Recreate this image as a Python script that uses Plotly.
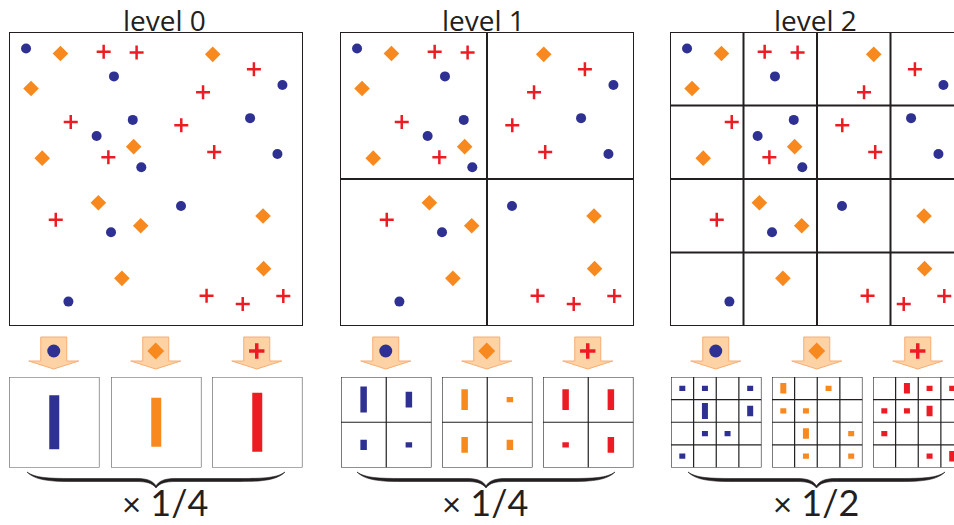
import numpy as np
import plotly.graph_objects as go

# ---------------- data (normalized positions inside the unit image square; u from left, v from top)
blue_u = [0.058, 0.357, 0.930, 0.421, 0.820, 0.298, 0.913, 0.450, 0.585, 0.347, 0.202]
blue_v = [0.056, 0.151, 0.180, 0.299, 0.293, 0.354, 0.415, 0.460, 0.592, 0.681, 0.917]
orange_u = [0.175, 0.693, 0.075, 0.424, 0.113, 0.304, 0.448, 0.864, 0.384, 0.866]
orange_v = [0.073, 0.076, 0.192, 0.390, 0.429, 0.581, 0.659, 0.626, 0.838, 0.805]
red_u = [0.322, 0.434, 0.833, 0.660, 0.210, 0.586, 0.338, 0.698, 0.159, 0.672, 0.795, 0.933]
red_v = [0.067, 0.070, 0.127, 0.205, 0.306, 0.317, 0.426, 0.408, 0.639, 0.897, 0.925, 0.898]

levels = [0, 1, 2]
level_titles = ["level 0", "level 1", "level 2"]
weight_labels = ["1/4", "1/4", "1/2"]

# ---------------- layout / style constants (pixels)
W, H = 954, 525
INK = "#231f20"
BLUE, ORANGE, RED = "#2e3192", "#f7891f", "#ed1c24"
ARROW_FILL, ARROW_LINE = "#fdd3a6", "#f8ad72"
FONT = "Open Sans"
FONT_W = "Lato"

panel_left = [9, 340, 670]
panel_top, panel_size = 32, 294
hist_left = [[9, 111, 212], [341, 442, 543], [671, 772, 873]]
hist_top, hist_size = 377, 90.5
px_per_count = [4.9, 5.2, 5.3]
bar_px = [10, 6.5, 6]
title_x = [164, 483, 815]
brace_span = [(27, 285), (357, 615), (688, 945)]
weight_x = [165, 485, 816]

series = [
    dict(u=blue_u, v=blue_v, color=BLUE, symbol="circle", size=10, icon=13),
    dict(u=orange_u, v=orange_v, color=ORANGE, symbol="diamond", size=12, icon=13),
    dict(u=red_u, v=red_v, color=RED, symbol="cross-thin", size=10, icon=11),
]

fig = go.Figure()
layout = dict(width=W, height=H, margin=dict(l=0, r=0, t=0, b=0),
              paper_bgcolor="white", plot_bgcolor="rgba(0,0,0,0)",
              showlegend=False)
shapes, annotations = [], []
ax_count = [0]


def new_axes(left, top, width, height, xr_units, yr_units):
    ax_count[0] += 1
    k = ax_count[0]
    right = min(left + width, W)
    xr = [0, xr_units * (right - left) / width]
    xn = "xaxis" if k == 1 else f"xaxis{k}"
    yn = "yaxis" if k == 1 else f"yaxis{k}"
    xref = "x" if k == 1 else f"x{k}"
    yref = "y" if k == 1 else f"y{k}"
    layout[xn] = dict(domain=[left / W, right / W], range=xr, visible=False,
                      fixedrange=True, anchor=yref)
    layout[yn] = dict(domain=[1 - (top + height) / H, 1 - top / H],
                      range=[yr_units, 0], visible=False, fixedrange=True, anchor=xref)
    return xref, yref


def marker_style(s, size, lw=2.5):
    if s["symbol"] == "cross-thin":
        return dict(symbol="cross-thin", size=size, line=dict(color=s["color"], width=lw))
    return dict(symbol=s["symbol"], size=size, color=s["color"], line=dict(width=0))


# ---------------- top image panels
for li, L in enumerate(levels):
    n = 2 ** L
    xr, yr = new_axes(panel_left[li], panel_top, panel_size, panel_size, 1, 1)
    for k in range(1, n):
        shapes.append(dict(type="line", xref=xr, yref=yr, x0=k / n, x1=k / n, y0=0, y1=1,
                           line=dict(color=INK, width=2)))
        shapes.append(dict(type="line", xref=xr, yref=yr, x0=0, x1=1, y0=k / n, y1=k / n,
                           line=dict(color=INK, width=2)))
    shapes.append(dict(type="rect", xref=xr, yref=yr, x0=0, x1=1, y0=0, y1=1,
                       line=dict(color=INK, width=2)))
    for s in series:
        fig.add_trace(go.Scatter(x=s["u"], y=s["v"], mode="markers", xaxis=xr, yaxis=yr,
                                 marker=marker_style(s, s["size"]), hoverinfo="skip",
                                 cliponaxis=True))
    annotations.append(dict(xref="paper", yref="paper", x=title_x[li] / W, y=1,
                            text=level_titles[li], showarrow=False, xanchor="center",
                            yanchor="top", borderpad=0,
                            font=dict(family=FONT, size=28, color=INK)))

# ---------------- histograms
for li, L in enumerate(levels):
    n = 2 ** L
    cell_px = hist_size / n
    for si, s in enumerate(series):
        left = hist_left[li][si]
        xr, yr = new_axes(left, hist_top, hist_size, hist_size, n, n)
        u = np.asarray(s["u"]); v = np.asarray(s["v"])
        col = np.clip((u * n).astype(int), 0, n - 1)
        row = np.clip((v * n).astype(int), 0, n - 1)
        counts = np.zeros((n, n), dtype=int)
        np.add.at(counts, (row, col), 1)
        rr, cc = np.nonzero(counts)
        hts = counts[rr, cc] * px_per_count[li] / cell_px
        fig.add_trace(go.Bar(x=cc + 0.5, y=hts, base=rr + 0.5 - hts / 2,
                             width=bar_px[li] / cell_px, xaxis=xr, yaxis=yr,
                             marker=dict(color=s["color"], line=dict(width=0)),
                             hoverinfo="skip"))
        gcol = "#555555" if L == 0 else INK
        for k in range(1, n):
            shapes.append(dict(type="line", xref=xr, yref=yr, x0=k, x1=k, y0=0, y1=n,
                               line=dict(color=gcol, width=1.2)))
            shapes.append(dict(type="line", xref=xr, yref=yr, x0=0, x1=n, y0=k, y1=k,
                               line=dict(color=gcol, width=1.2)))
        shapes.append(dict(type="rect", xref=xr, yref=yr, x0=0, x1=n, y0=0, y1=n,
                           line=dict(color=gcol, width=1.2)))

# ---------------- overlay (pixel space) for arrows, braces, icons
ax_count[0] += 1
k = ax_count[0]
OX, OY = f"x{k}", f"y{k}"
layout[f"xaxis{k}"] = dict(domain=[0, 1], range=[0, W], visible=False, fixedrange=True, anchor=OY)
layout[f"yaxis{k}"] = dict(domain=[0, 1], range=[H, 0], visible=False, fixedrange=True, anchor=OX)

for li in range(3):
    for si, s in enumerate(series):
        cx = hist_left[li][si] + hist_size / 2 - 0.5
        path = (f"M {cx-13},337 L {cx+13},337 L {cx+13},361 L {cx+25},361 "
                f"L {cx},369 L {cx-25},361 L {cx-13},361 Z")
        shapes.append(dict(type="path", xref=OX, yref=OY, path=path, layer="below",
                           fillcolor=ARROW_FILL, line=dict(color=ARROW_LINE, width=1)))
        fig.add_trace(go.Scatter(x=[cx], y=[351], mode="markers", xaxis=OX, yaxis=OY,
                                 marker=marker_style(s, s["icon"], lw=3.5), hoverinfo="skip"))

    x0, x1 = brace_span[li]
    c = (x0 + x1) / 2
    y0 = 472
    p = (f"M {x0},{y0} C {x0+8},{y0+6} {x0+22},{y0+6.5} {x0+45},{y0+6.5} "
         f"L {c-20},{y0+6.5} C {c-8},{y0+6.5} {c-3},{y0+9} {c},{y0+14} "
         f"C {c+3},{y0+9} {c+8},{y0+6.5} {c+20},{y0+6.5} "
         f"L {x1-45},{y0+6.5} C {x1-22},{y0+6.5} {x1-8},{y0+6} {x1},{y0} "
         f"C {x1-8},{y0+8} {x1-22},{y0+9.5} {x1-45},{y0+9.5} "
         f"L {c+20},{y0+9.5} C {c+9},{y0+9.5} {c+4},{y0+11} {c},{y0+16} "
         f"C {c-4},{y0+11} {c-9},{y0+9.5} {c-20},{y0+9.5} "
         f"L {x0+45},{y0+9.5} C {x0+22},{y0+9.5} {x0+8},{y0+8} {x0},{y0} Z")
    shapes.append(dict(type="path", xref=OX, yref=OY, path=p, fillcolor=INK,
                       line=dict(color=INK, width=0.6)))
    annotations.append(dict(xref="paper", yref="paper", x=weight_x[li] / W, y=0,
                            text=f"<span style='font-size:33px'>×</span> {weight_labels[li]}",
                            showarrow=False, xanchor="center", borderpad=0,
                            yanchor="bottom", font=dict(family=FONT_W, size=36, color=INK)))

layout["shapes"] = shapes
layout["annotations"] = annotations
fig.update_layout(**layout)
fig.write_html("out.html", config={"displayModeBar": False},
               post_script="document.body.style.margin='0';document.body.style.overflow='hidden';")
